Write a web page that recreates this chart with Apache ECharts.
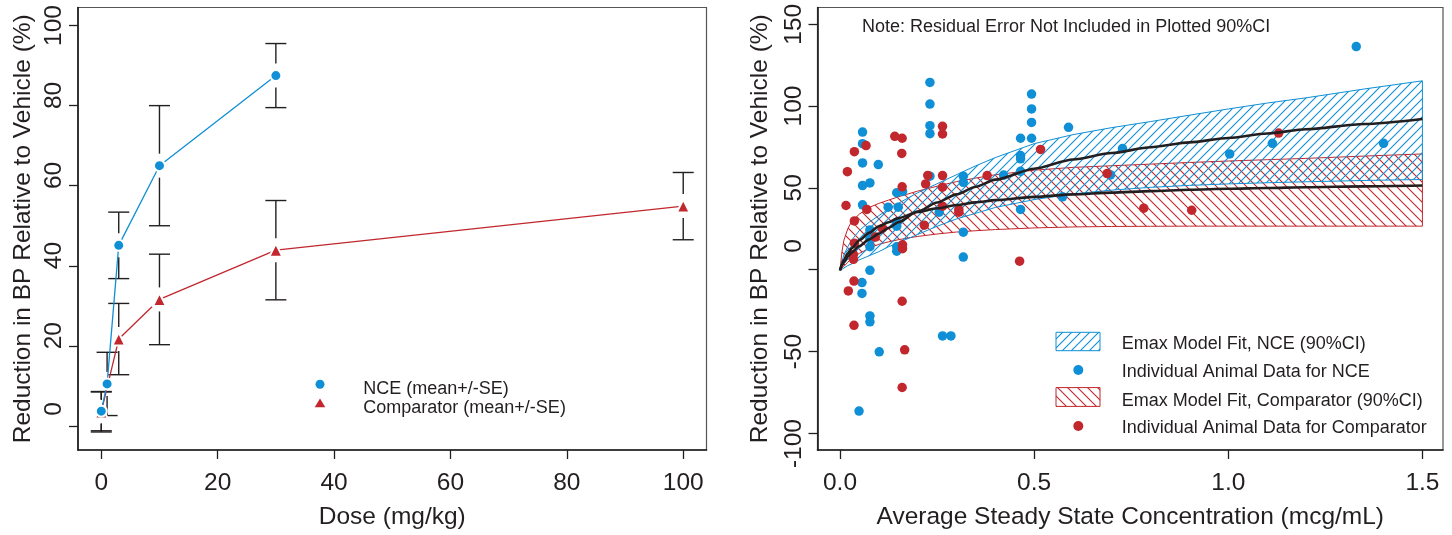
<!DOCTYPE html>
<html>
<head>
<meta charset="utf-8">
<script src="https://cdn.jsdelivr.net/npm/echarts@6/dist/echarts.min.js"></script>
<style>
  html, body { margin: 0; padding: 0; background: #ffffff; }
  #chart { width: 1452px; height: 535px; }
</style>
</head>
<body>
<div id="chart"></div>
<script>
// ---- Dose–response summary (left panel) ----
const nceDose = [0, 1, 3, 10, 30];
const nceMean = [3.7, 10.5, 45.1, 65.0, 87.5];
const nceSE = [4.9, 7.9, 8.3, 15.0, 8.0];
const compDose = [0, 3, 10, 30, 100];
const compMean = [3.5, 21.7, 31.6, 43.9, 54.9];
const compSE = [5.0, 8.9, 11.3, 12.4, 8.4];

// ---- Tick values ----
const doseTicks = [0, 20, 40, 60, 80, 100];
const pctTicksLeft = [0, 20, 40, 60, 80, 100];
const concTicks = [0, 0.5, 1.0, 1.5];
const pctTicksRight = [-100, -50, 0, 50, 100, 150];

// ---- Individual animal data (right panel) ----
const nceConc = [0.049, 0.0566, 0.0566, 0.058, 0.058, 0.058, 0.058, 0.058, 0.077, 0.077,
  0.077, 0.077, 0.077, 0.077, 0.077, 0.0986, 0.101, 0.124, 0.146, 0.150,
  0.146, 0.146, 0.146, 0.146, 0.161, 0.2316, 0.2316, 0.2316, 0.2316, 0.2316,
  0.2555, 0.264, 0.2856, 0.3175, 0.3175, 0.3175, 0.3175, 0.4213, 0.465, 0.465,
  0.465, 0.465, 0.465, 0.4933, 0.4933, 0.4933, 0.4933, 0.573, 0.5885, 0.6966,
  0.7275, 1.0036, 1.1135, 1.3296, 1.3999];
const nceResp = [-86.4, -7.9, -14.5, 84.1, 77.0, 65.2, 51.4, 39.6, 53.0, 24.3,
  19.0, 14.0, -0.4, -28.3, -31.9, 64.2, -50.2, 38.2, 47.0, 38.2,
  29.0, 26.6, 14.0, 11.3, 47.8, 114.4, 101.2, 88.0, 83.1, 57.1,
  35.1, -40.5, -40.5, 57.1, 53.4, 22.9, 7.7, 57.8, 80.3, 69.7,
  67.7, 60.1, 36.8, 107.3, 98.2, 90.0, 80.3, 44.5, 87.0, 57.9,
  74.0, 70.7, 77.2, 136.3, 77.2];
const compConc = [0.0154, 0.019, 0.0214, 0.036, 0.036, 0.037, 0.037, 0.037, 0.0345, 0.0345,
  0.067, 0.069, 0.091, 0.109, 0.141, 0.160, 0.159, 0.160, 0.161, 0.161,
  0.160, 0.1665, 0.160, 0.2205, 0.226, 0.217, 0.264, 0.264, 0.264, 0.264,
  0.264, 0.306, 0.306, 0.379, 0.4625, 0.5165, 0.688, 0.7823, 0.9058, 1.1297];
const compResp = [39.2, 59.9, -13.0, -7.0, -34.0, 72.1, 29.8, 16.2, 9.3, 6.3,
  75.8, 36.8, 19.9, 25.2, 81.5, 80.3, 71.0, 50.6, 15.2, 12.8,
  -19.3, -49.0, -72.0, 52.4, 57.6, 27.2, 87.6, 82.9, 57.5, 50.4,
  38.8, 36.8, 35.1, 57.5, 5.2, 73.5, 58.7, 37.6, 36.3, 83.5];

// ---- Emax model fits with 90% CI on a concentration grid ----
const fitConc = [0, 0.005, 0.01, 0.02, 0.03, 0.05, 0.075, 0.1, 0.125, 0.15, 0.2, 0.25, 0.3,
  0.35, 0.4, 0.5, 0.6, 0.7, 0.8, 0.9, 1.0, 1.1, 1.2, 1.35, 1.5];
const nceFit = [-0.4, 2.5, 4.5, 8, 10.5, 14.5, 18.5, 22, 25.5, 29, 35.5, 41, 46,
  50.7, 55, 61.7, 67.3, 71.3, 74.8, 77.8, 80.5, 83.2, 85.8, 89, 92.1];
const nceLo = [-0.4, 0.3, 1, 2.5, 3.5, 6, 8.5, 11, 14, 16.5, 21.5, 26.5, 31,
  34.5, 38, 42.8, 46.3, 48.6, 50.3, 51.5, 52.4, 53.1, 53.7, 54.5, 55.1];
const nceHi = [-0.4, 5, 9, 14, 18, 24, 29, 33, 37, 40.5, 47, 52.5, 58,
  63.5, 68.5, 77, 82.5, 86.8, 90.5, 94.4, 98.2, 101.8, 105, 110.4, 115.4];
const compFit = [-0.4, 3.5, 6, 10, 13, 18, 22.5, 26.5, 29, 31.5, 35.2, 37.5, 39.5,
  41.1, 42.5, 44.5, 46, 47.1, 48, 48.8, 49.4, 49.9, 50.4, 50.9, 51.4];
const compLo = [-0.4, 1, 2, 4.5, 7, 10, 13, 15.5, 17, 18.3, 20.3, 21.8, 23,
  23.8, 24.5, 25.5, 26.1, 26.4, 26.5, 26.6, 26.6, 26.6, 26.6, 26.6, 26.6];
const compHi = [-0.4, 11, 18, 25, 29.5, 34, 38, 40.5, 42.5, 44.5, 48, 51, 53.8,
  56, 58, 60.8, 62.5, 63.5, 64.5, 65.5, 66.4, 67.2, 68, 69.4, 70.7];

// ---- Styling ----
const BLUE = '#0F8FD5';
const RED = '#C1272D';
const INK = '#231F20';
const FONT = '"Liberation Sans", Arial, Helvetica, sans-serif';
const FIG = '\u2007'; // figure space (digit width), used to right-justify tick labels

// Diagonal hatch tiles: rising "/" or falling "\" lines
function hatch(color, size, rising) {
  const c = document.createElement('canvas');
  c.width = size; c.height = size;
  const g = c.getContext('2d');
  g.strokeStyle = color;
  g.lineWidth = 1.1;
  g.beginPath();
  if (rising) {
    g.moveTo(-1, size + 1); g.lineTo(size + 1, -1);
    g.moveTo(-1, 1); g.lineTo(1, -1);
    g.moveTo(size - 1, size + 1); g.lineTo(size + 1, size - 1);
  } else {
    g.moveTo(-1, -1); g.lineTo(size + 1, size + 1);
    g.moveTo(size - 1, -1); g.lineTo(size + 1, 1);
    g.moveTo(-1, size - 1); g.lineTo(1, size + 1);
  }
  g.stroke();
  return { image: c, repeat: 'repeat' };
}
const blueHatch = hatch(BLUE, 9, true);
const redHatch = hatch(RED, 10, false);

const pair = (xs, ys) => xs.map((x, i) => [x, ys[i]]);
const triple = (xs, ys, zs) => xs.map((x, i) => [x, ys[i], zs[i]]);

// Error bars with caps, leaving a gap around the plotted mean
function errorBar(params, api) {
  const x = api.value(0), m = api.value(1), s = api.value(2);
  const c = api.coord([x, m]);
  const hi = api.coord([x, m + s]);
  const lo = api.coord([x, m - s]);
  const gap = 12, half = 10.5;
  const style = { stroke: INK, lineWidth: 1.4 };
  const kids = [
    { type: 'line', shape: { x1: c[0] - half, y1: hi[1], x2: c[0] + half, y2: hi[1] }, style },
    { type: 'line', shape: { x1: c[0] - half, y1: lo[1], x2: c[0] + half, y2: lo[1] }, style }
  ];
  if (c[1] - gap > hi[1]) kids.push({ type: 'line', shape: { x1: c[0], y1: c[1] - gap, x2: c[0], y2: hi[1] }, style });
  if (c[1] + gap < lo[1]) kids.push({ type: 'line', shape: { x1: c[0], y1: c[1] + gap, x2: c[0], y2: lo[1] }, style });
  return { type: 'group', children: kids };
}

// Confidence band: one closed polygon built from every [conc, lower, upper] row
function bandRenderer(color, pattern) {
  return function (params, api) {
    if (params.dataIndexInside !== 0) return null;
    const n = params.dataInsideLength;
    const top = [], bottom = [];
    for (let i = 0; i < n; i++) {
      const x = api.value(0, i);
      top.push(api.coord([x, api.value(2, i)]));
      bottom.push(api.coord([x, api.value(1, i)]));
    }
    return {
      type: 'polygon',
      shape: { points: top.concat(bottom.reverse()) },
      style: { fill: pattern, stroke: color, lineWidth: 1 }
    };
  };
}

// Left-panel y labels are right-justified to three digits
function leftPctLabel(v) {
  const s = String(v);
  const missing = 3 - s.length;
  return missing > 0 ? FIG.repeat(missing) + ' ' + s : s;
}
// Right-panel y labels: "0" sits high, "-100" sits low
function rightPctLabel(v) {
  if (v === 0) return FIG + FIG + FIG + ' 0';
  if (v === -100) return '-100' + FIG + ' ';
  return String(v);
}

const axisText = { color: INK, fontSize: 24.5, fontFamily: FONT };
const tickStyle = { color: INK, width: 1.3 };

function xAxisDef(gridIndex, min, max, ticks, name, fmt) {
  return {
    type: 'value', gridIndex, min, max,
    name, nameLocation: 'middle', nameGap: 55,
    nameTextStyle: axisText,
    axisLine: { show: true, onZero: false, lineStyle: { color: '#1a1a1a', width: 1.6 } },
    axisTick: { show: true, inside: false, length: 9, customValues: ticks, lineStyle: tickStyle },
    axisLabel: { show: true, margin: 21, customValues: ticks, formatter: fmt, ...axisText },
    splitLine: { show: false }
  };
}
function yAxisDef(gridIndex, min, max, ticks, name, gap, fmt) {
  return {
    type: 'value', gridIndex, min, max,
    name, nameLocation: 'middle', nameGap: gap, nameRotate: 90,
    nameTextStyle: axisText,
    axisLine: { show: true, onZero: false, lineStyle: { color: '#1a1a1a', width: 1.6 } },
    axisTick: { show: true, inside: false, length: 9, customValues: ticks, lineStyle: tickStyle },
    axisLabel: { show: true, margin: 11, rotate: 90, customValues: ticks, formatter: fmt, ...axisText },
    splitLine: { show: false }
  };
}

const legendFont = { fontSize: 18, fontFamily: FONT, fill: INK };
const yTitle = 'Reduction in BP Relative to Vehicle (%)';

const option = {
  animation: false,
  backgroundColor: '#ffffff',
  textStyle: { fontFamily: FONT },
  grid: [
    { left: 78, top: 7.5, width: 628.5, height: 443.5, show: true, borderColor: '#555', borderWidth: 1.2, containLabel: false },
    { left: 817.5, top: 7.5, width: 625.5, height: 443.5, show: true, borderColor: '#555', borderWidth: 1.2, containLabel: false }
  ],
  xAxis: [
    xAxisDef(0, -4, 104, doseTicks, 'Dose (mg/kg)', v => String(v)),
    xAxisDef(1, -0.058, 1.553, concTicks, 'Average Steady State Concentration (mcg/mL)', v => v.toFixed(1))
  ],
  yAxis: [
    yAxisDef(0, -6, 104.5, pctTicksLeft, yTitle, 42, leftPctLabel),
    yAxisDef(1, -110.2, 160.2, pctTicksRight, yTitle, 44.5, rightPctLabel)
  ],
  series: [
    // ---- left panel ----
    { type: 'custom', name: 'NCE SE', xAxisIndex: 0, yAxisIndex: 0, renderItem: errorBar,
      data: triple(nceDose, nceMean, nceSE), z: 2, silent: true },
    { type: 'custom', name: 'Comparator SE', xAxisIndex: 0, yAxisIndex: 0, renderItem: errorBar,
      data: triple(compDose, compMean, compSE), z: 2, silent: true },
    { type: 'line', name: 'Comparator (mean+/-SE)', xAxisIndex: 0, yAxisIndex: 0,
      data: pair(compDose, compMean), symbol: 'triangle', symbolSize: 13,
      itemStyle: { color: RED, borderColor: '#fff', borderWidth: 2 },
      lineStyle: { color: RED, width: 1.3 }, z: 3, silent: true },
    { type: 'line', name: 'NCE (mean+/-SE)', xAxisIndex: 0, yAxisIndex: 0,
      data: pair(nceDose, nceMean), symbol: 'circle', symbolSize: 11,
      itemStyle: { color: BLUE, borderColor: '#fff', borderWidth: 2 },
      lineStyle: { color: BLUE, width: 1.3 }, z: 4, silent: true },

    // ---- right panel: 90% CI bands ----
    { type: 'custom', name: 'Emax Model Fit, Comparator (90%CI)', xAxisIndex: 1, yAxisIndex: 1,
      renderItem: bandRenderer(RED, redHatch), data: triple(fitConc, compLo, compHi), z: 1, silent: true },
    { type: 'custom', name: 'Emax Model Fit, NCE (90%CI)', xAxisIndex: 1, yAxisIndex: 1,
      renderItem: bandRenderer(BLUE, blueHatch), data: triple(fitConc, nceLo, nceHi), z: 1, silent: true },

    // ---- right panel: individual animals ----
    { type: 'scatter', name: 'Individual Animal Data for NCE', xAxisIndex: 1, yAxisIndex: 1,
      data: pair(nceConc, nceResp), symbol: 'circle', symbolSize: 9.5,
      itemStyle: { color: BLUE, opacity: 1 }, z: 3, silent: true },
    { type: 'scatter', name: 'Individual Animal Data for Comparator', xAxisIndex: 1, yAxisIndex: 1,
      data: pair(compConc, compResp), symbol: 'circle', symbolSize: 9.5,
      itemStyle: { color: RED, opacity: 1 }, z: 3, silent: true },

    // ---- right panel: median model fits ----
    { type: 'line', name: 'NCE fit', xAxisIndex: 1, yAxisIndex: 1, data: pair(fitConc, nceFit),
      smooth: 0.25, smoothMonotone: 'x', symbol: 'none', lineStyle: { color: INK, width: 2.6 }, z: 4, silent: true },
    { type: 'line', name: 'Comparator fit', xAxisIndex: 1, yAxisIndex: 1, data: pair(fitConc, compFit),
      smooth: 0.25, smoothMonotone: 'x', symbol: 'none', lineStyle: { color: INK, width: 2.6 }, z: 4, silent: true }
  ],
  graphic: [
    // left legend
    { type: 'circle', shape: { cx: 320, cy: 384.3, r: 4.5 }, style: { fill: BLUE }, z: 10 },
    { type: 'polygon', shape: { points: [[320, 398.5], [325.3, 407.3], [314.7, 407.3]] }, style: { fill: RED }, z: 10 },
    { type: 'text', x: 363.3, y: 389, style: { text: 'NCE (mean+/-SE)', ...legendFont, verticalAlign: 'middle' }, z: 10 },
    { type: 'text', x: 363.3, y: 408, style: { text: 'Comparator (mean+/-SE)', ...legendFont, verticalAlign: 'middle' }, z: 10 },

    // right panel note
    { type: 'text', x: 862, y: 27, style: { text: 'Note: Residual Error Not Included in Plotted 90%CI', ...legendFont, verticalAlign: 'middle' }, z: 10 },

    // right legend
    { type: 'rect', shape: { x: 1056, y: 332.3, width: 44, height: 18.4 }, style: { fill: blueHatch, stroke: BLUE, lineWidth: 1 }, z: 10 },
    { type: 'circle', shape: { cx: 1078.3, cy: 370, r: 5 }, style: { fill: BLUE }, z: 10 },
    { type: 'rect', shape: { x: 1056, y: 387.6, width: 44, height: 18.8 }, style: { fill: redHatch, stroke: RED, lineWidth: 1 }, z: 10 },
    { type: 'circle', shape: { cx: 1078.3, cy: 426, r: 5 }, style: { fill: RED }, z: 10 },
    { type: 'text', x: 1121.7, y: 343.7, style: { text: 'Emax Model Fit, NCE (90%CI)', ...legendFont, verticalAlign: 'middle' }, z: 10 },
    { type: 'text', x: 1121.7, y: 372, style: { text: 'Individual Animal Data for NCE', ...legendFont, verticalAlign: 'middle' }, z: 10 },
    { type: 'text', x: 1121.7, y: 401.2, style: { text: 'Emax Model Fit, Comparator (90%CI)', ...legendFont, verticalAlign: 'middle' }, z: 10 },
    { type: 'text', x: 1121.7, y: 428.3, style: { text: 'Individual Animal Data for Comparator', ...legendFont, verticalAlign: 'middle' }, z: 10 }
  ]
};

const chart = echarts.init(document.getElementById('chart'));
chart.setOption(option);
</script>
</body>
</html>
